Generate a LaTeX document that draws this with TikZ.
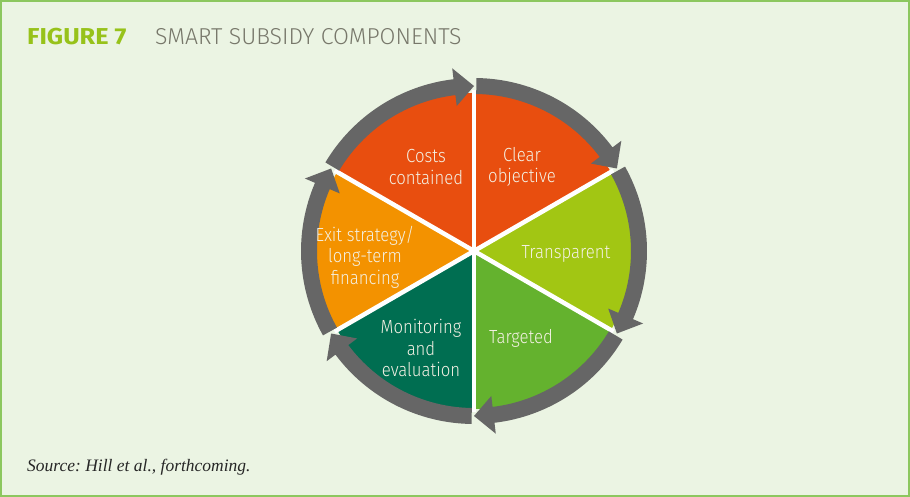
\documentclass[tikz,border=0pt]{standalone}
\usepackage{fontspec}
\setmainfont{Liberation Serif}
\newfontfamily\piefont{Fira Sans Light}[FakeStretch=0.88]
\newfontfamily\titlefont{Fira Sans Light}
\newfontfamily\titlebold{Fira Sans Bold}[FakeStretch=1.1]
\definecolor{bg}{HTML}{EBF4E3}
\definecolor{frame}{HTML}{8CC75F}
\definecolor{figgreen}{HTML}{97C21A}
\definecolor{titlegray}{HTML}{77776A}
\definecolor{redorange}{HTML}{E84E0F}
\definecolor{yellowgreen}{HTML}{A2C613}
\definecolor{midgreen}{HTML}{64B22E}
\definecolor{darkgreen}{HTML}{006E51}
\definecolor{orangec}{HTML}{F39200}
\definecolor{ringgray}{HTML}{666666}
\definecolor{pietext}{HTML}{F4F1E4}
\begin{document}
\begin{tikzpicture}[x=1pt,y=1pt,
  pielabel/.style={font=\piefont\fontsize{19}{21.5}\selectfont, text=pietext, align=center, inner sep=0pt},
  sep/.style={draw=white, line width=4.5pt},
  ringarrow/.style={fill=ringgray, draw=none}]
\useasboundingbox (0,0) rectangle (910,-497);
\fill[bg] (0,0) rectangle (910,-497);
\draw[frame, line width=1.6pt] (1,-1) rectangle (909,-496);
\node[anchor=base west, inner sep=0pt, text=figgreen, font=\titlebold\fontsize{23}{26}\selectfont] (fig) at (27,-45) {FIGURE 7};
\node[anchor=base west, inner sep=0pt, text=titlegray, font=\titlefont\fontsize{23}{26}\selectfont] (ttl) at (155,-45) {SMART SUBSIDY COMPONENTS};
\node[anchor=base west, inner sep=0pt, font=\itshape\fontsize{17.5}{20}\selectfont, text=black!85] (src) at (27,-471) {Source:~Hill et al., forthcoming.};
\begin{scope}[shift={(474,-251)}]
  \coordinate (c) at (0,0);
  % sectors
  \fill[redorange] (0,0) -- (30:158) arc[start angle=30, end angle=150, radius=158] -- cycle;
  \fill[yellowgreen] (0,0) -- (-30:158) arc[start angle=-30, end angle=30, radius=158] -- cycle;
  \fill[midgreen] (0,0) -- (-90:158) arc[start angle=-90, end angle=-30, radius=158] -- cycle;
  \fill[darkgreen] (0,0) -- (-150:158) arc[start angle=-150, end angle=-90, radius=158] -- cycle;
  \fill[orangec] (0,0) -- (150:158) arc[start angle=150, end angle=210, radius=158] -- cycle;
  % separators
  \foreach \a in {90,30,-30,-90,-150,150} \draw[sep] (c) -- (\a:161);
  % arrows
  \foreach \s/\e in {150/90, 90/30, 30/-30, -30/-90, -90/-150, -150/-210} {
    \pgfmathsetmacro{\st}{\s-0.8}
    \pgfmathsetmacro{\hb}{\e+6.8}
    \fill[ringarrow] (\st:173) arc[start angle=\st, end angle=\hb, radius=173]
      -- (\hb:184) -- (\e:165) -- (\hb:146) -- (\hb:157)
      arc[start angle=\hb, end angle=\st, radius=157] -- cycle;
  }
  % labels
  \node[pielabel] (costs) at (-48,84) {Costs\\contained};
  \node[pielabel] (clear) at (48,84) {Clear\\objective};
  \node[pielabel] (transp) at (92,-3) {Transparent};
  \node[pielabel] (target) at (47,-87) {Targeted};
  \node[pielabel] (monit) at (-53,-97) {Monitoring\\and\\evaluation};
  \node[pielabel] (exitn) at (-109,-6) {Exit strategy/\\long-term\\financing};
\end{scope}
\end{tikzpicture}
\end{document}
